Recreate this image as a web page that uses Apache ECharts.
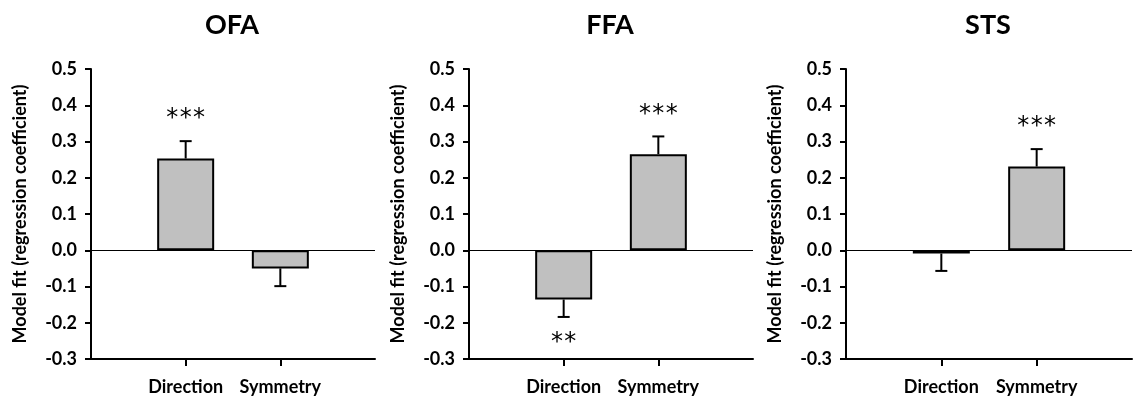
<!DOCTYPE html>
<html>
<head>
<meta charset="utf-8">
<script src="https://cdn.jsdelivr.net/npm/echarts@6/dist/echarts.min.js"></script>
<style>
  html, body { margin: 0; padding: 0; background: #fff; }
  #chart { width: 1133px; height: 401px; }
</style>
</head>
<body>
<div id="chart"></div>
<script>
const categories = ['Direction', 'Symmetry']
const regions = ['OFA', 'FFA', 'STS']
const yTicks = [-0.3, -0.2, -0.1, 0.0, 0.1, 0.2, 0.3, 0.4, 0.5]

// mean model fit per region (Direction, Symmetry)
const ofaMean = [0.253, -0.050]
const ffaMean = [-0.136, 0.265]
const stsMean = [-0.009, 0.231]

// standard error (drawn away from zero only)
const ofaErr = [0.048, 0.049]
const ffaErr = [0.048, 0.049]
const stsErr = [0.048, 0.048]

// significance marks
const ofaSig = ['***', '']
const ffaSig = ['**', '***']
const stsSig = ['', '***']

const means = [ofaMean, ffaMean, stsMean]
const errs = [ofaErr, ffaErr, stsErr]
const sigs = [ofaSig, ffaSig, stsSig]

const FONT = 'Lato'
const gridLeft = [91, 469, 846]
const gridWidth = [284, 284, 286]
const titleX = [227, 605, 983] // title padding shifts it by 5px

const chartDom = document.getElementById('chart')
const chart = echarts.init(chartDom, null, { renderer: 'canvas' })

// error bar + stars
const makeErrRender = (sig) => (params, api) => {
  const x = api.value(0)
  const v = api.value(1)
  const e = api.value(2)
  const dir = v >= 0 ? 1 : -1
  const p0 = api.coord([x, v])
  const p1 = api.coord([x, v + dir * e])
  const line = { stroke: '#000', lineWidth: 2 }
  const children = [
    { type: 'line', shape: { x1: p0[0], y1: p0[1], x2: p1[0], y2: p1[1] }, style: line },
    { type: 'line', shape: { x1: p1[0] - 6, y1: p1[1], x2: p1[0] + 6, y2: p1[1] }, style: line }
  ]
  const s = sig[params.dataIndex] || ''
  const ty = dir > 0 ? p1[1] - 27 : p1[1] + 21
  for (let i = 0; i < s.length; i++) {
    children.push({
      type: 'text',
      style: {
        text: '*',
        x: p1[0] + (i - (s.length - 1) / 2) * 13.3,
        y: ty + 5,
        align: 'center',
        verticalAlign: 'middle',
        font: '24px "DejaVu Sans"',
        fill: '#000'
      }
    })
  }
  return { type: 'group', children }
}

const grid = [], xAxis = [], yAxis = [], series = [], title = []

regions.forEach((name, k) => {
  title.push({
    text: name,
    left: titleX[k],
    top: 7,
    textAlign: 'center',
    textStyle: { fontFamily: FONT, fontWeight: 'bold', fontSize: 27, color: '#000' }
  })
  grid.push({ left: gridLeft[k], top: 69, width: gridWidth[k], height: 290 })
  xAxis.push({
    type: 'value',
    gridIndex: k,
    min: 0,
    max: 3,
    interval: 1,
    splitLine: { show: false },
    axisLine: { show: true, onZero: false, lineStyle: { color: '#000', width: 2 } },
    axisTick: { show: true, length: 7, customValues: [1, 2], lineStyle: { color: '#000', width: 2 } },
    axisLabel: {
      customValues: [1, 2],
      formatter: (v) => categories[Math.round(v) - 1] || '',
      color: '#000',
      fontFamily: FONT,
      fontWeight: 'bold',
      fontSize: 18,
      margin: 19
    }
  })
  yAxis.push({
    type: 'value',
    gridIndex: k,
    min: -0.3,
    max: 0.5,
    interval: 0.1,
    name: 'Model fit (regression coefficient)',
    nameLocation: 'middle',
    nameGap: 62,
    nameTextStyle: { fontFamily: FONT, fontWeight: 'bold', fontSize: 18, color: '#000' },
    splitLine: { show: false },
    axisLine: { show: true, lineStyle: { color: '#000', width: 2 } },
    axisTick: { show: true, length: 6, lineStyle: { color: '#000', width: 2 } },
    axisLabel: {
      color: '#000',
      fontFamily: FONT,
      fontWeight: 'bold',
      fontSize: 18,
      margin: 14,
      formatter: (v) => v.toFixed(1)
    }
  })
  series.push({
    type: 'bar',
    xAxisIndex: k,
    yAxisIndex: k,
    barWidth: 57,
    data: means[k].map((v, i) => [i + 1, v]),
    itemStyle: { color: '#c0c0c0', borderColor: '#000', borderWidth: 2 },
    silent: true,
    markLine: {
      silent: true,
      symbol: 'none',
      label: { show: false },
      lineStyle: { color: '#000', width: 1, type: 'solid' },
      data: [{ yAxis: 0 }]
    }
  })
  series.push({
    type: 'custom',
    xAxisIndex: k,
    yAxisIndex: k,
    silent: true,
    z: 3,
    renderItem: makeErrRender(sigs[k]),
    data: means[k].map((v, i) => [i + 1, v, errs[k][i]])
  })
})

chart.setOption({
  backgroundColor: '#fff',
  animation: false,
  title,
  grid,
  xAxis,
  yAxis,
  series
})

window.addEventListener('resize', () => chart.resize())
</script>
</body>
</html>
